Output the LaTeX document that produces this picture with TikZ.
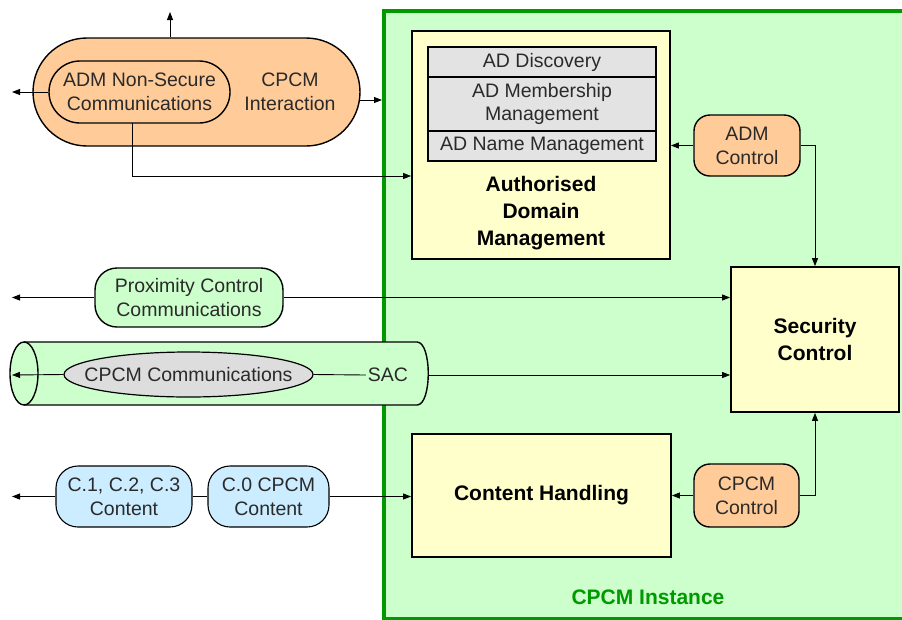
\documentclass[tikz,border=0pt]{standalone}
\usepackage{fontspec}
\setmainfont{Liberation Sans}
\usetikzlibrary{arrows.meta,shapes.geometric}
\definecolor{instgreen}{HTML}{CCFFCC}
\definecolor{instborder}{HTML}{009900}
\definecolor{boxyellow}{HTML}{FFFFCC}
\definecolor{pillorange}{HTML}{FFCC99}
\definecolor{pillblue}{HTML}{CCECFF}
\definecolor{stackgray}{HTML}{E3E3E3}
\definecolor{ellgray}{HTML}{DDDDDD}
\definecolor{txt}{HTML}{2A2A2A}
\begin{document}
\begin{tikzpicture}[x=1pt,y=-1pt,
  arr/.style={-{Triangle[length=8pt,width=6pt]}, line width=0.9pt},
  conn/.style={line width=0.9pt},
  normtxt/.style={font=\fontsize{19.5}{24}\selectfont, text=txt, align=center},
  boldtxt/.style={font=\fontsize{21}{27}\selectfont\bfseries, text=black, align=center},
  bigbox/.style={draw, line width=1.8pt, fill=boxyellow, inner sep=0pt},
  stackrow/.style={draw, line width=1.2pt, fill=stackgray, minimum width=228, inner sep=0pt, normtxt},
  pill/.style={draw, line width=1.4pt, inner sep=0pt, normtxt},
]
\useasboundingbox (0,0) rectangle (902,619);
\clip (0,0) rectangle (902,619);
\fill[white] (0,0) rectangle (902,619);

% container
\node[draw=instborder, line width=4pt, fill=instgreen, minimum width=530, minimum height=608.5, anchor=north west, inner sep=0pt] (inst) at (382,8.5) {};
\node[boldtxt, text=instborder] (insttitle) at (648,597) {CPCM Instance};

% Authorised Domain Management
\node[bigbox, minimum width=258, minimum height=228] (adm) at (541,145) {};
\node[stackrow, minimum height=30] (disc) at (542,62) {AD Discovery};
\node[stackrow, minimum height=54, font=\fontsize{19.5}{23}\selectfont] (memb) at (542,104) {AD Membership\\Management};
\node[stackrow, minimum height=30] (name) at (542,146) {AD Name Management};
\node[boldtxt] (admtitle) at (541,213) {Authorised\\Domain\\Management};

% Security Control
\node[bigbox, minimum width=168, minimum height=145, boldtxt] (sec) at (815,339.5) {Security\\Control};

% Content Handling
\node[bigbox, minimum width=259, minimum height=123, boldtxt] (ch) at (541.5,495.5) {Content Handling};

% ADM Control / CPCM Control
\node[pill, fill=pillorange, rounded corners=16pt, minimum width=106, minimum height=61] (admctl) at (747,145.5) {ADM\\Control};
\node[pill, fill=pillorange, rounded corners=16pt, minimum width=105, minimum height=63] (cpcmctl) at (746.5,495.5) {CPCM\\Control};

% top orange
\node[pill, fill=pillorange, rounded corners=54pt, minimum width=327, minimum height=108] (outer) at (196.5,92) {};
\node[pill, fill=pillorange, rounded corners=31pt, minimum width=181, minimum height=62] (inner) at (139.5,92) {ADM Non-Secure\\Communications};
\node[normtxt] (cpcmint) at (290,92) {CPCM\\Interaction};

% proximity
\node[pill, fill=instgreen, rounded corners=22pt, minimum width=188, minimum height=59] (prox) at (189,297.5) {Proximity Control\\Communications};

% SAC cylinder
\fill[instgreen] (24,342) -- (417,342) .. controls (432,342) and (432,405) .. (417,405) -- (24,405) -- cycle;
\draw[line width=1.4pt] (24,342) -- (417,342) .. controls (432,342) and (432,405) .. (417,405) -- (24,405);
\draw[line width=1.4pt, fill=instgreen] (24,373.5) ellipse [x radius=14, y radius=31.5];
\coordinate (sacR) at (428,375);
\node[draw, line width=1.2pt, fill=ellgray, ellipse, minimum width=249, minimum height=45, inner sep=0pt, normtxt] (cpcmcomm) at (188.5,374.5) {\makebox[0pt]{CPCM Communications}};
\node[normtxt, inner sep=2pt] (sac) at (388,375) {SAC};

% blue content
\node[pill, line width=1.1pt, fill=pillblue, rounded corners=22pt, minimum width=136, minimum height=61] (c1) at (124,496.5) {C.1, C.2, C.3\\Content};
\node[pill, line width=1.1pt, fill=pillblue, rounded corners=22pt, minimum width=121, minimum height=61] (c0) at (268.5,496.5) {C.0 CPCM\\Content};

% free ends
\coordinate (topend) at (170,12);
\coordinate (leftA) at (12,92);
\coordinate (leftB) at (12,297.5);
\coordinate (leftC) at (12,375);
\coordinate (leftD) at (12,496.5);
\coordinate (rightA) at (360,100);
\coordinate (downA) at (132,123);
\coordinate (bendA) at (132,176);

% connectors
\draw[arr] (outer.north -| topend) -- (topend);
\draw[arr] (inner.west) -- (leftA);
\draw[arr] (rightA) -- (rightA -| inst.west);
\draw[arr] (downA) -- (bendA) -- (bendA -| adm.west);
\draw[arr] (admctl.west) -- (admctl.west -| adm.east);
\draw[arr] (admctl.east) -| (sec.north);
\draw[arr] (cpcmctl.west) -- (cpcmctl.west -| ch.east);
\draw[arr] (cpcmctl.east) -| (sec.south);
\draw[arr] (prox.west) -- (leftB);
\draw[arr] (prox.east) -- (prox.east -| sec.west);
\draw[arr] (cpcmcomm.west) -- (leftC);
\draw[conn] (cpcmcomm.east) -- (sac.west);
\draw[arr] (sacR) -- (sacR -| sec.west);
\draw[arr] (c1.west) -- (leftD);
\draw[conn] (c1.east) -- (c0.west);
\draw[arr] (c0.east) -- (c0.east -| ch.west);
\end{tikzpicture}
\end{document}
